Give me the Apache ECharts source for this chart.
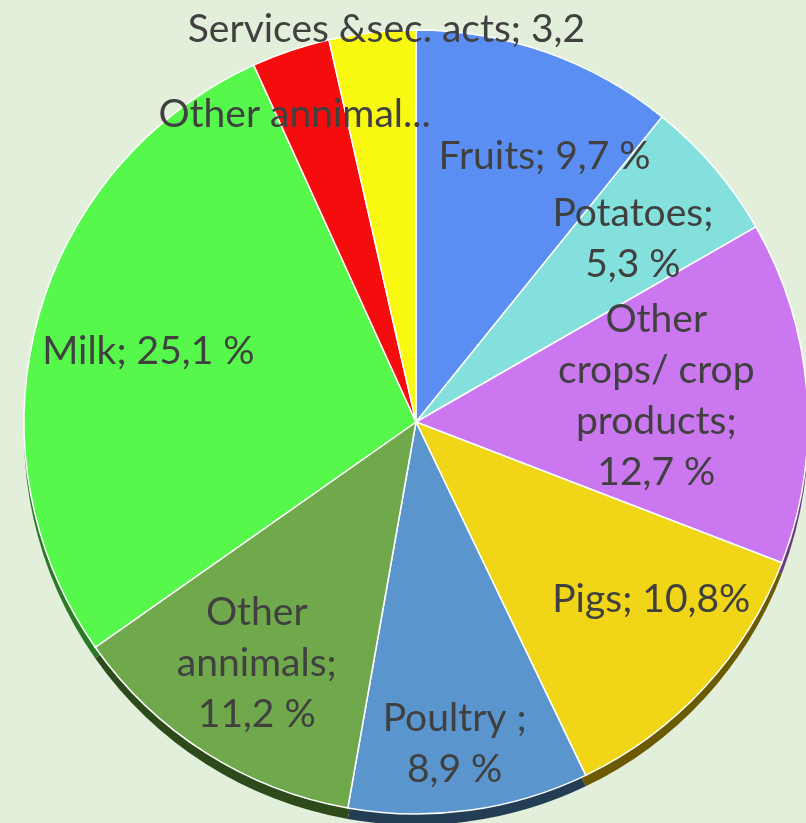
<!DOCTYPE html>
<html lang="en">
  <head>
    <meta charset="UTF-8" />
    <title>Agricultural output</title>
    <script src="https://cdn.jsdelivr.net/npm/echarts@6/dist/echarts.min.js"></script>
    <style>
      html, body { margin: 0; padding: 0; background: #e2efda; }
    </style>
  </head>
  <body>
    <div id="main" style="width: 806px; height: 823px"></div>
    <script type="text/javascript">
      // data, clockwise from 12 o'clock
      const categories = [
        "Fruits", "Potatoes", "Other crops/ crop products", "Pigs", "Poultry",
        "Other annimals", "Milk", "Other annimal products", "Services &sec. acts"
      ];
      const shares = [9.7, 5.3, 12.7, 10.8, 8.9, 11.2, 25.1, 2.9, 3.2];
      const labelTexts = [
        "Fruits; 9,7 %",
        "Potatoes;\n5,3 %",
        "Other\ncrops/ crop\nproducts;\n12,7 %",
        "Pigs; 10,8%",
        "Poultry ;\n8,9 %",
        "Other\nannimals;\n11,2 %",
        "Milk; 25,1 %",
        "Other annimal...",
        "Services &sec. acts; 3,2"
      ];

      const topColors = ["#5a8ef2", "#84e0dc", "#cb77f0", "#f0d616", "#5a96cd",
                         "#70a84c", "#57f84c", "#f50c0c", "#f8f810"];
      const sideColors = ["#2b4a80", "#3f7573", "#6a3d80", "#6b5a00", "#233d55",
                          "#2d4a1a", "#2a7a25", "#7a0606", "#7a7a08"];

      // how far out each label sits, as a share of the radius,
      // plus a small pixel nudge where the original sits off the mid angle
      const labelDepth = [0.74, 0.73, 0.62, 0.75, 0.83, 0.73, 0.70, 0.85, 1.01];
      const labelNudge = [[31, 11], [-3, 5], [-5, -7], [17, -24], [-6, -3],
                          [-4, -3], [0, 2], [-14, 11], [15, 4]];

      const R = 392;
      const cx = 416, cy = 422;

      let myChart = echarts.init(document.getElementById("main"));

      let series = [];

      // dark rim under the pie, for the 3D look
      series.push({
        type: "pie",
        center: [cx, cy + 11],
        radius: [0, R],
        startAngle: 90,
        silent: true,
        z: 1,
        label: { show: false },
        labelLine: { show: false },
        data: shares.map((v, i) => ({
          value: v, name: categories[i], itemStyle: { color: sideColors[i] }
        }))
      });

      // the pie itself
      series.push({
        type: "pie",
        center: [cx, cy],
        radius: [0, R],
        startAngle: 90,
        silent: true,
        z: 2,
        itemStyle: { borderColor: "#ffffff", borderWidth: 1.5 },
        label: { show: false },
        labelLine: { show: false },
        data: shares.map((v, i) => ({
          value: v, name: categories[i], itemStyle: { color: topColors[i] }
        }))
      });

      // invisible rings that only carry the labels
      let depths = Array.from(new Set(labelDepth));
      depths.forEach((d) => {
        let r0 = (2 * d - 1) * R;
        let radius = r0 < R ? [r0, R] : [R, r0];
        series.push({
          type: "pie",
          center: [cx, cy],
          radius: radius,
          startAngle: 90,
          silent: true,
          z: 3,
          avoidLabelOverlap: false,
          itemStyle: { color: "rgba(0,0,0,0)", borderWidth: 0 },
          labelLine: { show: false },
          label: {
            show: true,
            position: "inside",
            color: "#404040",
            fontFamily: "Lato",
            fontSize: 39,
            lineHeight: 51,
            formatter: (p) => labelTexts[p.dataIndex]
          },
          labelLayout: (p) => ({
            hideOverlap: false,
            dx: labelNudge[p.dataIndex][0],
            dy: labelNudge[p.dataIndex][1]
          }),
          data: shares.map((v, i) => ({
            value: v, name: categories[i], label: { show: labelDepth[i] === d }
          }))
        });
      });

      myChart.setOption({
        backgroundColor: "#e2efda",
        animation: false,
        series: series
      });
    </script>
  </body>
</html>
